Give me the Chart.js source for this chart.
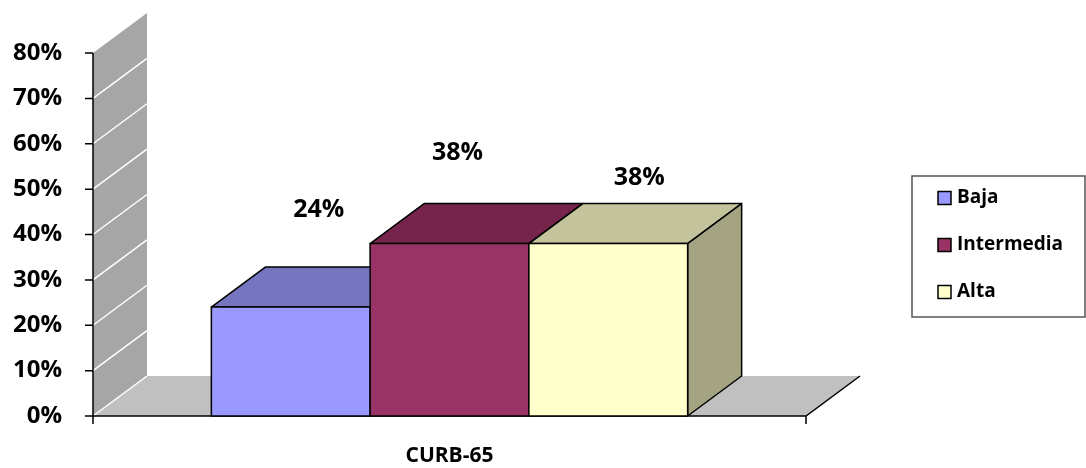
<!DOCTYPE html>
<html>
<head>
<meta charset="utf-8">
<script src="https://cdn.jsdelivr.net/npm/chart.js@4"></script>
<style>
  html, body { margin: 0; padding: 0; background: #fff; }
  #wrap { width: 1086px; height: 468px; }
</style>
</head>
<body>
<div id="wrap"><canvas id="curbChart"></canvas></div>
<script>
// CURB-65 risk groups
var categories = ['CURB-65'];
var seriesNames = ['Baja', 'Intermedia', 'Alta'];
var seriesValues = [24, 38, 38];
var yMin = 0, yMax = 80, yStep = 10;

// front / top / side colours of each box
var frontColors = ['#9999ff', '#993366', '#ffffcc'];
var topColors = ['#7676c0', '#76244c', '#c4c49c'];
var sideColors = ['#5c5c99', '#5c1c3c', '#a4a482'];
// where each value label sits, relative to the top of its bar
var labelShift = [[28, -97], [8, -91], [31, -66]];

var DX = 54, DY = -40;   // depth of the 3d box
var FONT = "'Open Sans', 'DejaVu Sans', sans-serif";

function poly(ctx, pts, fill, stroke, lw) {
    ctx.beginPath();
    ctx.moveTo(pts[0][0], pts[0][1]);
    for (var i = 1; i < pts.length; i++) ctx.lineTo(pts[i][0], pts[i][1]);
    ctx.closePath();
    if (fill) { ctx.fillStyle = fill; ctx.fill(); }
    if (stroke) { ctx.strokeStyle = stroke; ctx.lineWidth = lw || 1; ctx.stroke(); }
}

const wallPlugin = {
    id: 'walls3d',
    beforeDatasetsDraw: (chart) => {
        const ctx = chart.ctx;
        const a = chart.chartArea;
        const y = chart.scales.y;
        ctx.save();
        // back wall
        poly(ctx, [[a.left, a.top], [a.left + DX, a.top + DY], [a.left + DX, a.bottom + DY], [a.left, a.bottom]], '#a6a6a6');
        // floor
        poly(ctx, [[a.left, a.bottom], [a.right, a.bottom], [a.right + DX, a.bottom + DY], [a.left + DX, a.bottom + DY]], '#c0c0c0');
        // white grid lines on the wall
        ctx.strokeStyle = '#ffffff';
        ctx.lineWidth = 1.5;
        for (var v = yMin; v < yMax; v += yStep) {
            var py = y.getPixelForValue(v);
            ctx.beginPath();
            ctx.moveTo(a.left, py);
            ctx.lineTo(a.left + DX, py + DY);
            ctx.stroke();
        }
        // axes
        ctx.strokeStyle = '#000';
        ctx.lineWidth = 1.5;
        ctx.beginPath();
        ctx.moveTo(a.left, a.top);
        ctx.lineTo(a.left, a.bottom);
        ctx.lineTo(a.right, a.bottom);
        ctx.lineTo(a.right + DX, a.bottom + DY);
        ctx.stroke();
        ctx.beginPath();
        for (var v = yMin; v <= yMax; v += yStep) {
            var py = y.getPixelForValue(v);
            ctx.moveTo(a.left - 8, py);
            ctx.lineTo(a.left, py);
        }
        ctx.moveTo(a.left, a.bottom);
        ctx.lineTo(a.left, a.bottom + 8);
        ctx.moveTo(a.right, a.bottom);
        ctx.lineTo(a.right, a.bottom + 8);
        ctx.stroke();
        ctx.restore();
    },
    afterDatasetsDraw: (chart) => {
        const ctx = chart.ctx;
        ctx.save();
        ctx.lineJoin = 'round';
        chart.data.datasets.forEach((ds, i) => {
            const bar = chart.getDatasetMeta(i).data[0].getProps(['x', 'y', 'base', 'width'], true);
            const l = bar.x - bar.width / 2, r = bar.x + bar.width / 2;
            const t = bar.y, b = bar.base;
            poly(ctx, [[l, t], [r, t], [r + DX, t + DY], [l + DX, t + DY]], topColors[i], '#000', 1.5);
            poly(ctx, [[r, t], [r + DX, t + DY], [r + DX, b + DY], [r, b]], sideColors[i], '#000', 1.5);
            poly(ctx, [[l, t], [r, t], [r, b], [l, b]], frontColors[i], '#000', 1.5);
        });
        // value labels
        ctx.fillStyle = '#000';
        ctx.font = 'bold 25px ' + FONT;
        ctx.textAlign = 'center';
        ctx.textBaseline = 'middle';
        chart.data.datasets.forEach((ds, i) => {
            const bar = chart.getDatasetMeta(i).data[0];
            ctx.fillText(ds.data[0] + '%', bar.x + labelShift[i][0], bar.y + labelShift[i][1]);
        });
        ctx.restore();
    },
    afterDraw: (chart) => {
        // legend box on the right
        const ctx = chart.ctx;
        ctx.save();
        ctx.strokeStyle = '#555';
        ctx.lineWidth = 1.5;
        ctx.strokeRect(912, 176, 173, 141);
        ctx.font = 'bold 19px ' + FONT;
        ctx.textBaseline = 'middle';
        ctx.textAlign = 'left';
        chart.data.datasets.forEach((ds, i) => {
            const cy = 198 + i * 47;
            ctx.fillStyle = frontColors[i];
            ctx.fillRect(938, cy - 6.5, 13, 13);
            ctx.strokeStyle = '#000';
            ctx.lineWidth = 1.5;
            ctx.strokeRect(938, cy - 6.5, 13, 13);
            ctx.fillStyle = '#000';
            ctx.fillText(ds.label, 957, cy);
        });
        ctx.restore();
    }
};

var ctx = document.getElementById('curbChart').getContext('2d');
var myChart = new Chart(ctx, {
    type: 'bar',
    data: {
        labels: categories,
        datasets: seriesNames.map((name, i) => ({
            label: name,
            data: [seriesValues[i]],
            backgroundColor: frontColors[i],
            borderColor: '#000',
            borderWidth: 1,
            categoryPercentage: 0.668,
            barPercentage: 1
        }))
    },
    options: {
        responsive: true,
        maintainAspectRatio: false,
        animation: false,
        layout: { padding: { top: 53, right: 280, left: 0, bottom: 0 } },
        plugins: {
            legend: { display: false },
            tooltip: { enabled: false }
        },
        scales: {
            x: {
                grid: { display: false, drawTicks: false },
                border: { display: false },
                ticks: {
                    color: '#000',
                    padding: 27,
                    font: { family: FONT, size: 21, weight: 'bold' }
                },
                afterFit: (scale) => { scale.height = 52; }
            },
            y: {
                min: yMin,
                max: yMax,
                grid: { display: false, drawTicks: false },
                border: { display: false },
                ticks: {
                    stepSize: yStep,
                    color: '#000',
                    padding: 31,
                    font: { family: FONT, size: 24, weight: 'bold' },
                    callback: (v) => v + '%'
                },
                afterFit: (scale) => { scale.width = 93; }
            }
        }
    },
    plugins: [wallPlugin]
});
</script>
</body>
</html>
